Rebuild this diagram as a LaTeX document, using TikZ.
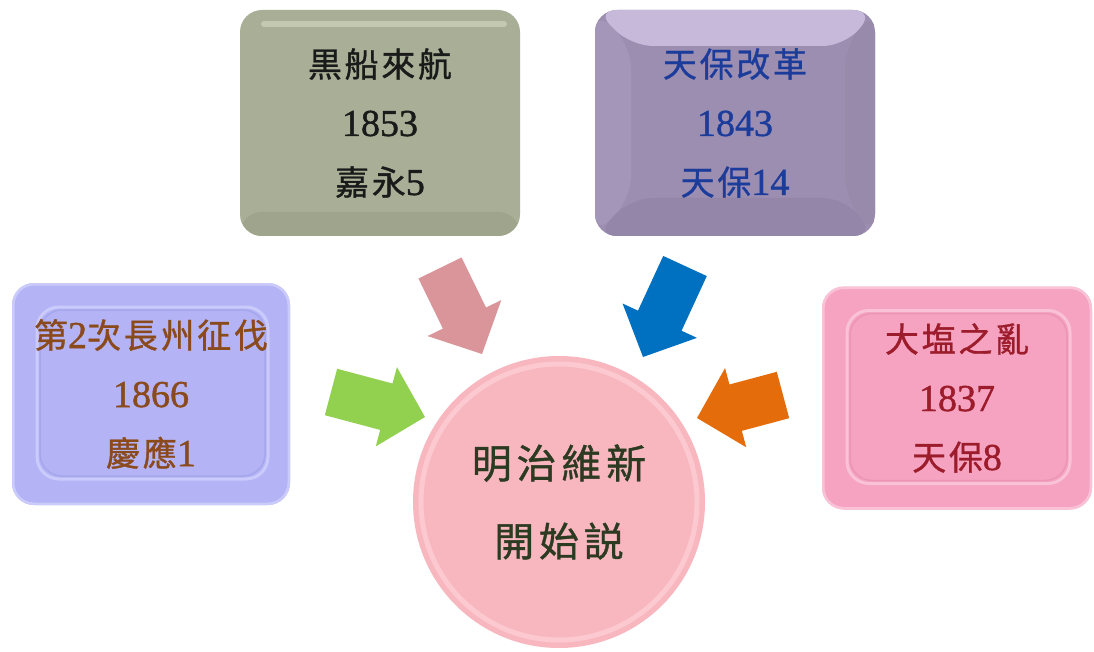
\documentclass[tikz,border=0pt]{standalone}
\usepackage{fontspec}
\setmainfont[FakeBold=1.2]{Liberation Serif}
\newfontfamily\cjk[LetterSpace=8,FakeBold=1]{Noto Sans CJK TC}
\usetikzlibrary{calc}
\definecolor{sageC}{HTML}{A9AF96}
\definecolor{sageHi}{HTML}{C3C9B0}
\definecolor{sageLo}{HTML}{9FA58C}
\definecolor{purpC}{HTML}{9C8EB0}
\definecolor{purpTop}{HTML}{C6B9DA}
\definecolor{purpL}{HTML}{A496B8}
\definecolor{purpR}{HTML}{978AAB}
\definecolor{purpB}{HTML}{9486A9}
\definecolor{lavC}{HTML}{B3B3F6}
\definecolor{lavHi}{HTML}{CBCBFB}
\definecolor{lavLo}{HTML}{A6A6EC}
\definecolor{pinkC}{HTML}{F5A3C0}
\definecolor{pinkHi}{HTML}{F9C2D6}
\definecolor{pinkLo}{HTML}{EC95B4}
\definecolor{circC}{HTML}{F8B7BF}
\definecolor{circHi}{HTML}{FBC9CF}
\definecolor{arrPink}{HTML}{D99599}
\definecolor{arrBlue}{HTML}{0070C0}
\definecolor{arrGreen}{HTML}{92D050}
\definecolor{arrOrange}{HTML}{E46C0A}
\definecolor{txtBlack}{HTML}{1A1A1A}
\definecolor{txtBlue}{HTML}{1C3C9C}
\definecolor{txtBrown}{HTML}{8B4A1C}
\definecolor{txtRed}{HTML}{9C1C2C}
\definecolor{txtOlive}{HTML}{2D3A22}
\newcommand\yr[1]{{\rmfamily\fontsize{38}{59}\selectfont #1}}
\newcommand\blockarrow[3]{%
  \coordinate (ba-h) at ($(#2)!40pt!(#1)$);
  \fill[#3] ($(#1)!24pt!90:(#2)$) -- ($(ba-h)!24pt!90:(#2)$) -- ($(ba-h)!41pt!90:(#2)$)
    -- (#2) -- ($(ba-h)!41pt!-90:(#2)$) -- ($(ba-h)!24pt!-90:(#2)$) -- ($(#1)!24pt!-90:(#2)$) -- cycle;}
\tikzset{
  box/.style={rounded corners=22pt, inner sep=0pt, align=center,
    font=\fontsize{34}{59}\selectfont},
  sagebevel/.style={path picture={
    \coordinate (nw) at (path picture bounding box.north west);
    \coordinate (se) at (path picture bounding box.south east);
    \fill[sageLo] ($(nw|-se)+(0,-24)$) rectangle (se);
    \draw[sageHi, line width=6pt, line cap=round] ($(nw)+(24,14)$) -- ($(se|-nw)+(-16,14)$);}},
  purpbevel/.style={path picture={
    \coordinate (nw) at (path picture bounding box.north west);
    \coordinate (se) at (path picture bounding box.south east);
    \coordinate (ne) at (se|-nw);
    \coordinate (sw) at (nw|-se);
    \fill[purpL] (nw) -- ($(nw)+(36,36)$) -- ($(sw)+(36,-38)$) -- (sw) -- cycle;
    \fill[purpR] (ne) -- ($(ne)+(-30,36)$) -- ($(se)+(-30,-38)$) -- (se) -- cycle;
    \fill[purpB] (sw) -- ($(sw)+(36,-38)$) -- ($(se)+(-30,-38)$) -- (se) -- cycle;
    \fill[purpTop] (nw) -- (ne) -- ($(ne)+(-30,36)$) -- ($(nw)+(36,36)$) -- cycle;}},
  framebevel/.style 2 args={path picture={
    \coordinate (nw) at (path picture bounding box.north west);
    \coordinate (se) at (path picture bounding box.south east);
    \draw[#1, line width=5pt] (nw) rectangle (se);
    \draw[#1, line width=3pt] ($(nw)+(25,24)$) rectangle ($(se)+(-22,-26)$);
    \draw[#2, line width=1.5pt] ($(nw)+(28,27)$) rectangle ($(se)+(-25,-29)$);}},
  circbevel/.style={path picture={
    \coordinate (c) at (path picture bounding box.center);
    \draw[circHi, line width=5pt] (c) circle[radius=138pt];}}
}
\begin{document}
\begin{tikzpicture}[x=1pt,y=-1pt]
\useasboundingbox (0,0) rectangle (1094,652);
\fill[white] (0,0) rectangle (1094,652);

% boxes
\node[box, fill=sageC, sagebevel, minimum width=280pt, minimum height=226pt, text=txtBlack]
  (kurofune) at (380,123) {{\cjk 黒船來航}\\\yr{1853}\\{\cjk 嘉永}\yr{5}};
\node[box, fill=purpC, purpbevel, minimum width=280pt, minimum height=226pt, text=txtBlue]
  (tenpo) at (735,123) {{\cjk 天保改革}\\\yr{1843}\\{\cjk 天保}\yr{14}};
\node[box, fill=lavC, framebevel={lavHi}{lavLo}, minimum width=278pt, minimum height=222pt, text=txtBrown]
  (choshu) at (151,394) {{\cjk 第}\yr{2}{\cjk 次長州征伐}\\\yr{1866}\\{\cjk 慶應}\yr{1}};
\node[box, fill=pinkC, framebevel={pinkHi}{pinkLo}, minimum width=270pt, minimum height=223pt, text=txtRed]
  (oshio) at (957,398) {{\cjk 大塩之亂}\\\yr{1837}\\{\cjk 天保}\yr{8}};

% centre circle
\node[circle, fill=circC, circbevel, minimum size=292pt, inner sep=0pt, align=center,
  text=txtOlive, font={\fontsize{40}{78}\selectfont\cjk\addfontfeature{LetterSpace=12}}]
  (meiji) at (559,502) {明治維新\\開始説};

% block arrows
\coordinate (pinkTail) at (440,268);  \coordinate (pinkTip) at (482,354);
\coordinate (blueTail) at (685,266);  \coordinate (blueTip) at (643,357);
\coordinate (greenTail) at (331,392); \coordinate (greenTip) at (425,417);
\coordinate (orTail) at (783,395);    \coordinate (orTip) at (697,418);
\blockarrow{pinkTail}{pinkTip}{arrPink}
\blockarrow{blueTail}{blueTip}{arrBlue}
\blockarrow{greenTail}{greenTip}{arrGreen}
\blockarrow{orTail}{orTip}{arrOrange}
\end{tikzpicture}
\end{document}
